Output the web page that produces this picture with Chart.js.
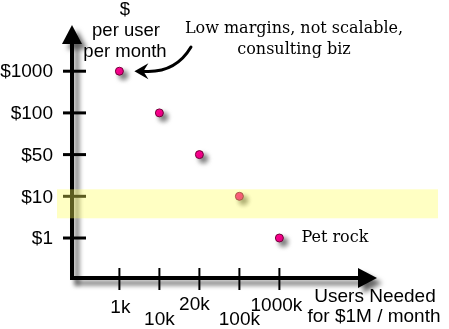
<!DOCTYPE html>
<html>
<head>
<meta charset="utf-8">
<script src="https://cdn.jsdelivr.net/npm/chart.js@4"></script>
<style>
  html, body { margin: 0; padding: 0; background: #fff; }
  #wrap { width: 449px; height: 329px; position: relative; }
</style>
</head>
<body>
<div id="wrap"><canvas id="chart"></canvas></div>
<script>
// ---- data ----
const userLabels  = ["1k", "10k", "20k", "100k", "1000k"];
const priceLabels = ["$1", "$10", "$50", "$100", "$1000"];
const pointUsers  = ["1k", "10k", "20k", "100k", "1000k"];
const pointPrices = ["$1000", "$100", "$50", "$10", "$1"];
const highlightPrice = "$10";
const yTitle = ["$", "per user", "per month"];
const xTitle = ["Users Needed", "for $1M / month"];
const noteLines = ["Low margins, not scalable,", "consulting biz"];
const petRockLabel = "Pet rock";

const points = pointUsers.map((u, i) => ({
  x: userLabels.indexOf(u),
  y: priceLabels.indexOf(pointPrices[i])
}));

const SANS = '"Liberation Sans", Arial, sans-serif';
const SERIF = '"DejaVu Serif", serif';

// staggered x labels (dx, baseline) like the hand-drawn original
const xLabelShift = [[1, 313], [0, 325], [-5, 310], [0, 325], [-3, 311]];

function setShadow(ctx, off, blur, a) {
  ctx.shadowColor = `rgba(0,0,0,${a})`;
  ctx.shadowOffsetX = off;
  ctx.shadowOffsetY = off;
  ctx.shadowBlur = blur;
}

const sketchPlugin = {
  id: "sketch",
  beforeDatasetsDraw(chart) {
    const { ctx, chartArea: ca, scales: { x, y } } = chart;
    const ax = ca.left, ay = ca.bottom;

    ctx.save();
    setShadow(ctx, 5, 5, 0.6);
    ctx.strokeStyle = "#000";
    ctx.fillStyle = "#000";
    ctx.lineCap = "butt";

    // y axis + arrow
    ctx.lineWidth = 4;
    ctx.beginPath();
    ctx.moveTo(ax, ca.top + 16);
    ctx.lineTo(ax, ay + 2);
    ctx.stroke();
    ctx.beginPath();
    ctx.moveTo(ax, ca.top);
    ctx.lineTo(ax - 10, ca.top + 19);
    ctx.lineTo(ax + 10, ca.top + 19);
    ctx.closePath();
    ctx.fill();

    // x axis + arrow
    ctx.beginPath();
    ctx.moveTo(ax - 2, ay);
    ctx.lineTo(ca.right - 16, ay);
    ctx.stroke();
    ctx.beginPath();
    ctx.moveTo(ca.right, ay);
    ctx.lineTo(ca.right - 19, ay - 10);
    ctx.lineTo(ca.right - 19, ay + 10);
    ctx.closePath();
    ctx.fill();
    ctx.restore();

    // ticks
    ctx.save();
    ctx.strokeStyle = "#000";
    ctx.lineWidth = 3;
    priceLabels.forEach((lab, i) => {
      const py = y.getPixelForValue(i);
      ctx.beginPath();
      ctx.moveTo(ax - 9, py);
      ctx.lineTo(ax + 14, py);
      ctx.stroke();
    });
    ctx.lineWidth = 2;
    userLabels.forEach((lab, i) => {
      const px = x.getPixelForValue(i);
      ctx.beginPath();
      ctx.moveTo(px, ay - 10);
      ctx.lineTo(px, ay + 12);
      ctx.stroke();
    });

    // tick labels
    ctx.fillStyle = "#000";
    ctx.font = "19px " + SANS;
    ctx.textAlign = "right";
    ctx.textBaseline = "middle";
    priceLabels.forEach((lab, i) => {
      ctx.fillText(lab, 53, y.getPixelForValue(i) + 1);
    });
    ctx.textAlign = "center";
    ctx.textBaseline = "alphabetic";
    userLabels.forEach((lab, i) => {
      const [dx, by] = xLabelShift[i];
      ctx.fillText(lab, x.getPixelForValue(i) + dx, by);
    });
    ctx.restore();

    // shadow for the points
    ctx.save();
    setShadow(ctx, 4, 5, 0.55);
  },
  afterDatasetsDraw(chart) {
    chart.ctx.restore();
  },
  afterDraw(chart) {
    const { ctx, chartArea: ca, scales: { x, y } } = chart;

    // highlighted price band, drawn over everything
    const hy = y.getPixelForValue(priceLabels.indexOf(highlightPrice));
    ctx.save();
    ctx.fillStyle = "rgba(255,255,90,0.36)";
    ctx.fillRect(57, hy - 7, 381, 29);
    ctx.restore();

    ctx.save();
    ctx.fillStyle = "#000";
    ctx.textAlign = "center";
    ctx.textBaseline = "alphabetic";

    // axis titles
    ctx.font = "18.5px " + SANS;
    ctx.fillText(yTitle[0], 125, 15);
    ctx.fillText(yTitle[1], 126, 36);
    ctx.fillText(yTitle[2], 125, 57);
    ctx.font = "19px " + SANS;
    ctx.fillText(xTitle[0], 375, 302);
    ctx.fillText(xTitle[1], 374, 322);

    // notes
    ctx.font = "16px " + SERIF;
    ctx.fillText(noteLines[0], 294, 33);
    ctx.fillText(noteLines[1], 294, 54);

    const last = points[points.length - 1];
    ctx.textAlign = "left";
    ctx.fillText(petRockLabel, x.getPixelForValue(last.x) + 22, y.getPixelForValue(last.y) + 4);

    // curved arrow to the consulting point
    const first = points[0];
    const tx = x.getPixelForValue(first.x) + 15;
    const ty = y.getPixelForValue(first.y);
    ctx.strokeStyle = "#000";
    ctx.lineWidth = 3;
    ctx.lineCap = "round";
    ctx.beginPath();
    ctx.moveTo(191, 47);
    ctx.quadraticCurveTo(175, 74, tx + 8, ty);
    ctx.stroke();
    ctx.beginPath();
    ctx.moveTo(tx, ty);
    ctx.lineTo(tx + 14, ty - 8);
    ctx.lineTo(tx + 9, ty);
    ctx.lineTo(tx + 14, ty + 8);
    ctx.closePath();
    ctx.fill();
    ctx.restore();
  }
};

new Chart(document.getElementById("chart"), {
  type: "scatter",
  data: {
    datasets: [{
      data: points,
      backgroundColor: "#ff0090",
      borderColor: "#700038",
      borderWidth: 1,
      pointRadius: 4
    }]
  },
  options: {
    responsive: true,
    maintainAspectRatio: false,
    animation: false,
    layout: { padding: { left: 72, right: 72, top: 25, bottom: 51 } },
    plugins: { legend: { display: false }, tooltip: { enabled: false } },
    scales: {
      x: { type: "linear", min: -1.185, max: 6.44, display: false },
      y: { type: "linear", min: -0.959, max: 5.108, display: false }
    }
  },
  plugins: [sketchPlugin]
});
</script>
</body>
</html>
